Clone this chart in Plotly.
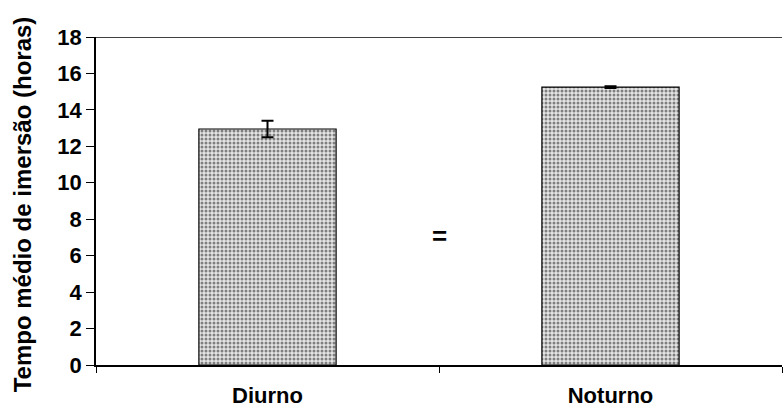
import plotly.graph_objects as go

# Mean immersion time by period
periods = ["Diurno", "Noturno"]
mean_hours = [12.95, 15.25]
err_hours = [0.45, 0.05]
y_ticks = [0, 2, 4, 6, 8, 10, 12, 14, 16, 18]

FONT = "Liberation Sans, Arial, sans-serif"
W, H = 784, 412
ML, MR, MT, MB = 96, 2, 37, 47

fig = go.Figure()
fig.add_trace(go.Bar(
    x=periods,
    y=mean_hours,
    width=0.4,
    marker=dict(
        color="#c8c8c8",
        line=dict(color="black", width=1.2),
        pattern=dict(shape=".", fgcolor="#1a1a1a", bgcolor="#e4e4e4",
                     size=4, solidity=0.45),
    ),
    error_y=dict(type="data", array=err_hours, visible=True,
                 color="black", thickness=2, width=6),
    showlegend=False,
))

# sign between the two bars
fig.add_annotation(x=0.5, y=7.1, xref="x", yref="y", text="<b>=</b>",
                   showarrow=False, font=dict(family=FONT, size=26, color="black"))

# vertical axis title, placed in the left margin
fig.add_annotation(x=(22 - ML) / (W - ML - MR), y=0.49, xref="paper", yref="paper",
                   text="<b>Tempo médio de imersão (horas)</b>", textangle=-90,
                   xanchor="center", yanchor="middle", showarrow=False,
                   font=dict(family=FONT, size=24, color="black"))

# top frame line across the plot
fig.add_shape(type="line", xref="paper", yref="y", x0=0, x1=1.0, y0=18, y1=18,
              line=dict(color="black", width=1.5))

fig.update_layout(
    width=W, height=H,
    margin=dict(l=ML, r=MR, t=MT, b=MB),
    paper_bgcolor="white", plot_bgcolor="white",
    font=dict(family=FONT, color="black"),
)
fig.update_xaxes(
    type="category", tickson="boundaries", automargin=False,
    showline=True, linecolor="black", linewidth=1.5,
    ticks="outside", ticklen=6, tickcolor="black", tickwidth=1,
    ticklabelstandoff=10,
    tickfont=dict(family=FONT, size=22, color="black"),
    ticktext=["<b>Diurno</b>", "<b>Noturno</b>"], tickvals=periods,
    showgrid=False, range=[-0.5, 1.5],
)
fig.update_yaxes(
    range=[0, 18], tickvals=y_ticks, automargin=False,
    ticktext=[f"<b>{v}</b>" for v in y_ticks],
    showline=True, linecolor="black", linewidth=1.5,
    ticks="outside", ticklen=8, tickcolor="black", tickwidth=1,
    tickfont=dict(family=FONT, size=22, color="black"),
    showgrid=False, zeroline=False,
)

fig.write_html("out.html")
